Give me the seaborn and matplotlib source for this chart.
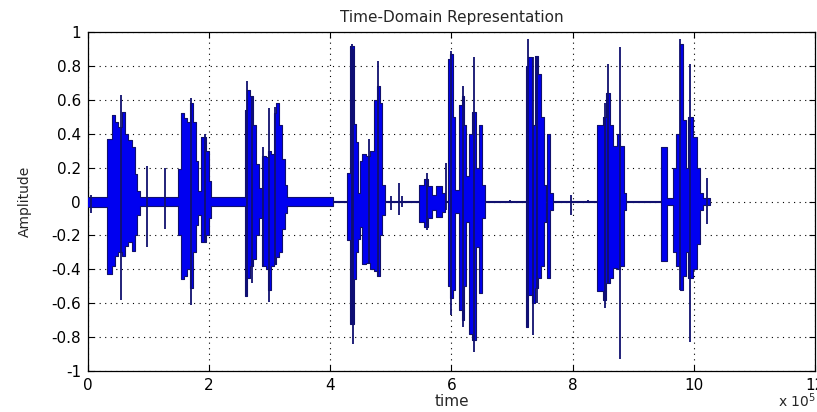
import matplotlib
matplotlib.use("Agg")
import numpy as np
import pandas as pd
import matplotlib.pyplot as plt
import seaborn as sns

# time axis is in units of 1e5 samples (axis shows "x 10^5")
# step envelope of the waveform: value holds from env_t[i] to env_t[i+1]
env_t = [0.0, 0.314, 0.396, 0.446, 0.495, 0.561, 0.611, 0.660, 0.726, 0.776, 0.809, 0.858,
         1.485, 1.535, 1.584, 1.634, 1.683, 1.733, 1.782, 1.815, 1.865, 1.947, 1.997, 2.030,
         2.591, 2.624, 2.673, 2.723, 2.772, 2.822, 2.871, 2.937, 2.970, 3.020, 3.069, 3.102,
         3.152, 3.201, 3.251, 3.284,
         4.043, 4.274, 4.323, 4.389, 4.422, 4.455, 4.488, 4.521, 4.587, 4.653, 4.719, 4.769,
         4.818, 4.851, 4.901,
         5.462, 5.545, 5.611, 5.677, 5.743, 5.842, 5.891,
         5.941, 5.974, 6.023, 6.056, 6.122, 6.172, 6.205, 6.238, 6.287, 6.337, 6.403, 6.452,
         6.502, 6.551,
         7.228, 7.261, 7.327, 7.376, 7.426, 7.475, 7.525, 7.558, 7.574, 7.624, 7.673,
         8.399, 8.498, 8.548, 8.614, 8.663, 8.729, 8.779, 8.845, 8.878,
         9.455, 9.554, 9.653, 9.703, 9.769, 9.818, 9.868, 9.901, 9.983, 10.050, 10.099,
         10.149, 10.264]
env_hi = [0.025, 0.37, 0.51, 0.47, 0.44, 0.53, 0.40, 0.36, 0.32, 0.16, 0.06, 0.025,
          0.19, 0.52, 0.49, 0.47, 0.58, 0.47, 0.24, 0.06, 0.38, 0.30, 0.12, 0.025,
          0.54, 0.66, 0.62, 0.45, 0.22, 0.08, 0.27, 0.26, 0.30, 0.28, 0.52, 0.58,
          0.45, 0.25, 0.10, 0.025,
          0.005, 0.17, 0.92, 0.46, 0.35, 0.05, 0.24, 0.28, 0.27, 0.30, 0.60, 0.68,
          0.58, 0.10, 0.005,
          0.10, 0.13, 0.09, 0.04, 0.09, 0.05, 0.005,
          0.84, 0.87, 0.50, 0.07, 0.57, 0.62, 0.45, 0.15, 0.40, 0.53, 0.20, 0.45,
          0.10, 0.005,
          0.80, 0.85, 0.45, 0.86, 0.75, 0.50, 0.10, 0.005, 0.40, 0.05, 0.005,
          0.45, 0.50, 0.64, 0.45, 0.33, 0.40, 0.33, 0.05, 0.005,
          0.32, 0.02, 0.20, 0.40, 0.93, 0.48, 0.20, 0.50, 0.38, 0.20, 0.05,
          0.02, 0.005]
env_lo = [-0.03, -0.43, -0.38, -0.32, -0.30, -0.32, -0.26, -0.24, -0.29, -0.20, -0.08, -0.025,
          -0.20, -0.46, -0.44, -0.40, -0.51, -0.30, -0.14, -0.08, -0.24, -0.20, -0.10, -0.025,
          -0.56, -0.45, -0.38, -0.34, -0.20, -0.10, -0.38, -0.40, -0.52, -0.38, -0.37, -0.33,
          -0.30, -0.16, -0.07, -0.025,
          -0.005, -0.23, -0.72, -0.46, -0.30, -0.22, -0.15, -0.37, -0.36, -0.40, -0.41, -0.44,
          -0.20, -0.08, -0.005,
          -0.12, -0.15, -0.10, -0.05, -0.09, -0.06, -0.005,
          -0.50, -0.57, -0.52, -0.07, -0.64, -0.70, -0.50, -0.12, -0.78, -0.82, -0.27, -0.54,
          -0.10, -0.005,
          -0.74, -0.55, -0.60, -0.51, -0.45, -0.38, -0.12, -0.005, -0.45, -0.05, -0.005,
          -0.53, -0.58, -0.48, -0.45, -0.39, -0.40, -0.38, -0.05, -0.005,
          -0.35, -0.02, -0.30, -0.38, -0.52, -0.44, -0.30, -0.45, -0.40, -0.25, -0.05,
          -0.02, -0.005]

# isolated peaks drawn as single strokes
spike_t = [0.050, 0.545, 0.974, 1.271, 1.700, 1.931, 2.624, 2.706, 2.888, 2.987, 3.086,
           4.356, 4.373, 4.637, 4.785, 5.000, 5.132, 5.182, 5.594, 5.908, 5.990, 6.188,
           6.370, 6.964, 7.261, 7.343, 7.409, 7.970, 8.251, 8.531, 8.581, 8.779, 9.769,
           9.934, 10.215]
spike_hi = [0.04, 0.63, 0.21, 0.20, 0.61, 0.40, 0.71, 0.62, 0.32, 0.55, 0.56,
            0.93, 0.90, 0.37, 0.83, 0.03, 0.11, 0.03, 0.17, 0.23, 0.89, 0.68,
            0.85, 0.01, 0.96, 0.85, 0.86, 0.04, 0.01, 0.58, 0.81, 0.91, 0.96,
            0.81, 0.14]
spike_lo = [-0.07, -0.58, -0.27, -0.16, -0.61, -0.24, -0.56, -0.48, -0.38, -0.59, -0.37,
            -0.72, -0.84, -0.36, -0.44, -0.05, -0.08, -0.03, -0.17, -0.05, -0.67, -0.74,
            -0.89, -0.01, -0.74, -0.79, -0.60, -0.08, -0.01, -0.63, -0.48, -0.93, -0.52,
            -0.83, -0.13]

x_ticks = [0, 2, 4, 6, 8, 10, 12]
y_ticks = [-1, -0.8, -0.6, -0.4, -0.2, 0, 0.2, 0.4, 0.6, 0.8, 1]

env = pd.DataFrame({"t": env_t, "hi": env_hi, "lo": env_lo})

sns.set_style("ticks")
plt.rcParams["font.family"] = ["DejaVu Sans"]
plt.rcParams["axes.unicode_minus"] = False

fig = plt.figure(figsize=(8.17, 4.12), dpi=100)
ax = fig.add_axes([0.1077, 0.0995, 0.8898, 0.8228])

fill_blue = "#0000f0"
edge_blue = "#10106e"
ax.fill_between(env["t"], env["hi"], env["lo"], step="post", color=fill_blue, linewidth=0, zorder=3)
sns.lineplot(data=env, x="t", y="hi", drawstyle="steps-post", estimator=None,
             color=edge_blue, lw=0.8, ax=ax, zorder=4)
sns.lineplot(data=env, x="t", y="lo", drawstyle="steps-post", estimator=None,
             color=edge_blue, lw=0.8, ax=ax, zorder=4)
ax.vlines(spike_t, spike_lo, spike_hi, color=edge_blue, lw=1.3, zorder=5)

ax.set_xlim(0, 12)
ax.set_ylim(-1, 1)
ax.set_xticks(x_ticks)
ax.set_yticks(y_ticks)
ax.set_yticklabels([f"{v:g}" for v in y_ticks])
ax.tick_params(direction="in", length=4, width=0.8, top=True, right=True,
               labelsize=11, colors="k", pad=5)
ax.grid(True, linestyle=(0, (1, 4)), color="k", lw=0.8)
ax.set_axisbelow(True)
for s in ax.spines.values():
    s.set_visible(True)
    s.set_color("k")
    s.set_linewidth(0.9)

ax.set_title("Time-Domain Representation", fontsize=11, pad=7)
ax.set_xlabel("time", fontsize=11, labelpad=1)
ax.set_ylabel("Amplitude", fontsize=10, labelpad=14)
fig.text(0.998, 0.004, "x 10$^5$", ha="right", va="bottom", fontsize=10)

fig.savefig("out.png", dpi=100)
